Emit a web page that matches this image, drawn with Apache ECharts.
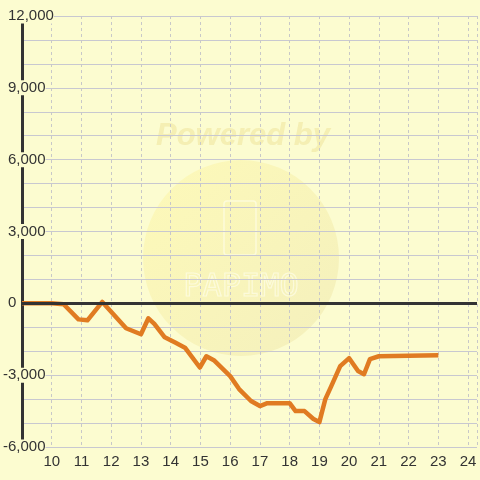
<!DOCTYPE html>
<html>
<head>
<meta charset="utf-8">
<script src="https://cdn.jsdelivr.net/npm/echarts@6/dist/echarts.min.js"></script>
<style>
  html, body { margin: 0; padding: 0; background: #fcfcd0; }
  #chart { width: 480px; height: 480px; }
</style>
</head>
<body>
<div id="chart"></div>
<script>
// 时间（小时）与累计盈亏
var hours = [9, 10, 10.4, 10.9, 11.2, 11.7, 12.5, 13, 13.25, 13.45, 13.8, 14.15, 14.48, 14.98, 15.2, 15.45, 16, 16.3, 16.7, 17, 17.25, 18, 18.2, 18.5, 18.8, 19, 19.2, 19.4, 19.7, 20, 20.3, 20.5, 20.7, 21, 23];
var pnl = [0, 0, -40, -670, -710, 60, -1040, -1290, -625, -860, -1420, -1640, -1850, -2680, -2210, -2375, -3040, -3580, -4080, -4290, -4170, -4170, -4500, -4500, -4830, -4960, -4000, -3460, -2625, -2290, -2830, -2960, -2330, -2210, -2170];
var yTicks = [-6000, -3000, 0, 3000, 6000, 9000, 12000];
var xTicks = [10, 11, 12, 13, 14, 15, 16, 17, 18, 19, 20, 21, 22, 23, 24];

var bg = '#fcfcd0';
var chart = echarts.init(document.getElementById('chart'));

function fmt(v) {
    return Math.abs(v).toString().replace(/\B(?=(\d{3})+(?!\d))/g, ',');
}

var labelFont = { color: '#333', fontSize: 15, lineHeight: 14, fontFamily: 'Liberation Sans', backgroundColor: bg };

chart.setOption({
    backgroundColor: bg,
    animation: false,
    grid: { left: 21, right: 0, top: 16, bottom: 33 },
    graphic: [
        {
            type: 'circle', z: -1, silent: true,
            shape: { cx: 241, cy: 258, r: 98 },
            style: {
                fill: new echarts.graphic.LinearGradient(0, 0, 1, 1, [
                    { offset: 0, color: 'rgba(255,245,150,0.4)' },
                    { offset: 1, color: 'rgba(232,222,160,0.4)' }
                ])
            }
        },
        {
            type: 'text', z: -1, silent: true,
            style: {
                x: 243, y: 136, text: 'Powered by', align: 'center', verticalAlign: 'middle',
                font: 'italic bold 31px "Liberation Sans", Arial', fill: 'rgba(238,225,150,0.5)'
            }
        },
        {
            type: 'rect', z: -1, silent: true,
            shape: { x: 224, y: 201, width: 32, height: 54, r: 3 },
            style: { fill: 'none', stroke: 'rgba(255,255,240,0.6)', lineWidth: 1.5 }
        },
        {
            type: 'text', z: -1, silent: true,
            style: {
                x: 241, y: 288, text: 'PAPIMO', align: 'center', verticalAlign: 'middle',
                font: '32px "DejaVu Sans Mono", monospace', fill: 'none',
                stroke: 'rgba(255,255,240,0.6)', lineWidth: 1.2
            }
        }
    ],
    xAxis: {
        type: 'value',
        min: 9,
        max: 24.3,
        interval: 1,
        axisLine: { show: false },
        axisTick: { show: false },
        axisLabel: {
            color: '#333',
            fontSize: 15,
            fontFamily: 'Liberation Sans',
            margin: 7,
            formatter: function (v) { return xTicks.indexOf(v) >= 0 ? String(v) : ''; }
        },
        splitLine: {
            show: true,
            lineStyle: { color: '#c8c8c8', width: 1, type: [3, 3] }
        }
    },
    yAxis: {
        type: 'value',
        min: -6000,
        max: 12000,
        interval: 1000,
        axisLine: { show: true, onZero: false, lineStyle: { color: '#333', width: 3 } },
        axisTick: { show: false },
        splitLine: { show: true, lineStyle: { color: '#c8c8d0', width: 1 } },
        axisLabel: {
            align: 'left',
            margin: 19,
            formatter: function (v) {
                if (yTicks.indexOf(v) < 0) return '';
                return v < 0 ? '{n|-' + fmt(v) + '}' : '{s| }{n|' + fmt(v) + '}';
            },
            rich: {
                n: labelFont,
                s: Object.assign({}, labelFont, { width: 5 })
            }
        }
    },
    series: [
        {
            type: 'line',
            data: hours.map(function (h, i) { return [h, pnl[i]]; }),
            showSymbol: false,
            lineStyle: { color: '#e07b22', width: 4.5, join: 'round' },
            markLine: {
                silent: true,
                symbol: 'none',
                label: { show: false },
                lineStyle: { color: '#333', width: 3, type: 'solid' },
                data: [{ yAxis: 0 }]
            },
            z: 3
        }
    ]
});
</script>
</body>
</html>
